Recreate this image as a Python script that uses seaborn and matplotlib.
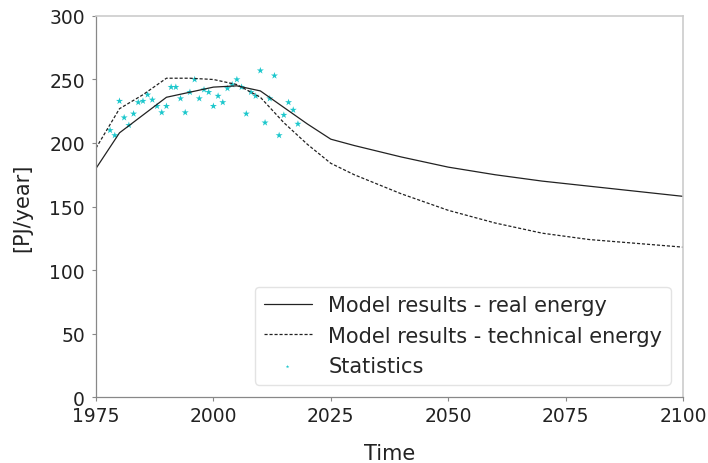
import matplotlib
matplotlib.use("Agg")
import matplotlib.pyplot as plt
import seaborn as sns
import pandas as pd

# Model output (PJ/year)
model_years = [1975, 1980, 1985, 1990, 1995, 2000, 2005, 2010, 2015, 2020, 2025,
               2030, 2040, 2050, 2060, 2070, 2080, 2090, 2100]
real_energy = [180, 208, 222, 236, 240, 244, 245, 241, 228, 215, 203,
               198, 189, 181, 175, 170, 166, 162, 158]
technical_energy = [196, 227, 238, 251, 251, 250, 246, 236, 216, 199, 184,
                    175, 160, 147, 137, 129, 124, 121, 118]

# Statistics (PJ/year)
stat_years = list(range(1978, 2019))
stat_values = [210, 206, 233, 220, 214, 223, 232, 233, 238, 234, 229, 224, 229,
               244, 244, 235, 224, 240, 250, 235, 242, 240, 229, 237, 232, 243,
               246, 250, 244, 223, 240, 237, 257, 216, 235, 253, 206, 222, 232,
               226, 215]

sns.set_theme(style="ticks")
plt.rcParams["font.family"] = ["DejaVu Sans"]

fig = plt.figure(figsize=(7.08, 4.64), dpi=100)
ax = fig.add_axes([0.1356, 0.1422, 0.8291, 0.8212])

model = pd.DataFrame({"year": model_years, "real": real_energy, "tech": technical_energy})
stats = pd.DataFrame({"year": stat_years, "value": stat_values})

sns.lineplot(data=model, x="year", y="real", ax=ax, color="#222222", linewidth=0.9,
             label="Model results - real energy")
sns.lineplot(data=model, x="year", y="tech", ax=ax, color="#222222", linewidth=0.9,
             linestyle=(0, (2.5, 1.5)), label="Model results - technical energy")
sns.scatterplot(data=stats, x="year", y="value", ax=ax, marker="*", s=28,
                color="#1cc7cc", edgecolor="none", label="Statistics")

ax.set_xlim(1975, 2100)
ax.set_ylim(0, 300)
ax.set_xticks([1975, 2000, 2025, 2050, 2075, 2100])
ax.set_yticks([0, 50, 100, 150, 200, 250, 300])
ax.tick_params(labelsize=13.5, length=3, width=0.8)
ax.tick_params(axis="y", pad=5)
ax.tick_params(axis="both", colors="#888888", labelcolor="#222222")
ax.set_xlabel("Time", fontsize=15, color="#222222", labelpad=13)
ax.set_ylabel("[PJ/year]", fontsize=15, color="#222222", labelpad=12)

for side in ["left", "bottom"]:
    ax.spines[side].set_color("#888888")
    ax.spines[side].set_linewidth(0.9)
for side in ["top", "right"]:
    ax.spines[side].set_visible(True)
    ax.spines[side].set_color("#cccccc")
    ax.spines[side].set_linewidth(1.2)

leg = ax.legend(loc="lower right", fontsize=15, markerscale=0.5, frameon=True,
                borderaxespad=0.6, handlelength=2.3)
leg.get_frame().set_edgecolor("#dddddd")

fig.savefig("out.png", dpi=100)
